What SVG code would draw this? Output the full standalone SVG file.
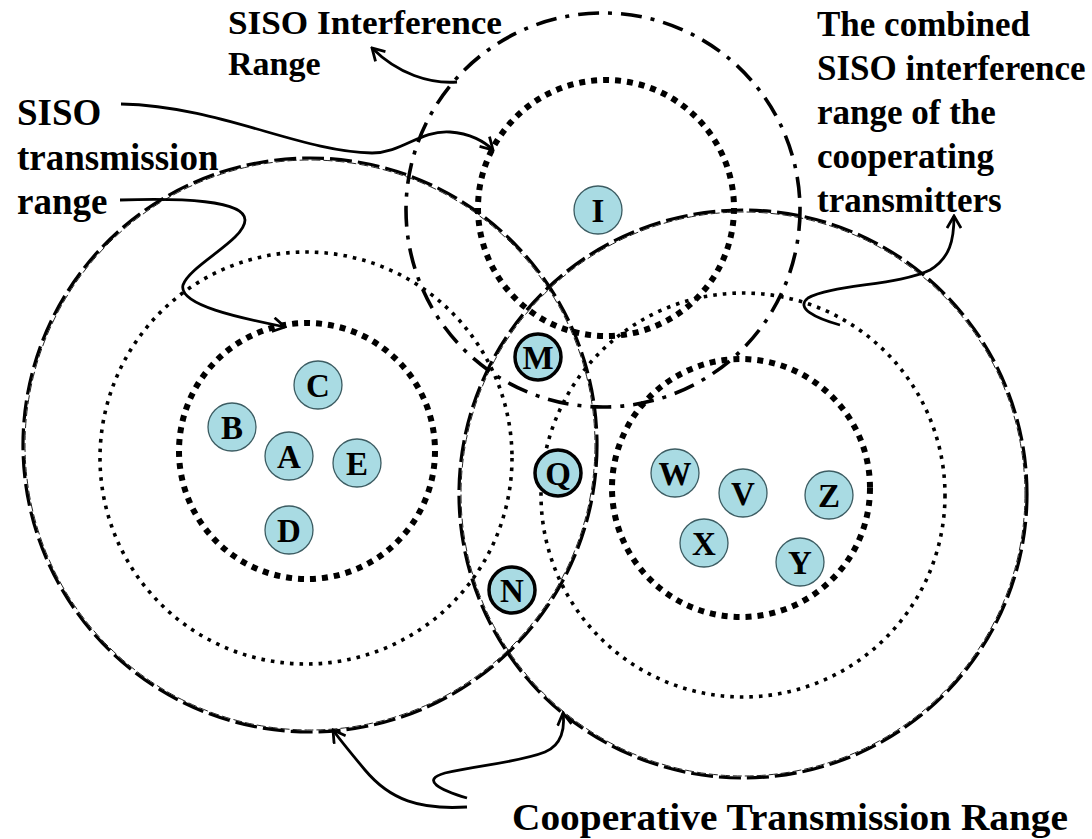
<svg xmlns="http://www.w3.org/2000/svg" width="1092" height="839" viewBox="0 0 1092 839">
<style>
text{font-family:"Liberation Serif","Times New Roman",serif;font-weight:bold;fill:#000}
.lbl{font-size:37px}
.lbl2{font-size:35px}
.coop{fill:none;stroke:#000;stroke-width:3.2;stroke-dasharray:22 6}
.coopthin{fill:none;stroke:#222;stroke-width:1;stroke-dasharray:9 3}
.intf{fill:none;stroke:#000;stroke-width:3.6;stroke-dasharray:21 9 4 9}
.tx{fill:none;stroke:#000;stroke-width:6;stroke-dasharray:6 6}
.ci{fill:none;stroke:#000;stroke-width:3.6;stroke-dasharray:3.6 6}
.node circle{fill:#a9dbe3;stroke:#3c5c62;stroke-width:1.3}
.node.coopn circle{stroke:#000;stroke-width:3.5}
.node text{font-size:33px;text-anchor:middle}
.conn path{fill:none;stroke:#000;stroke-width:2.8;marker-end:url(#arr)}
</style>
<defs>
<marker id="arr" viewBox="0 0 16 16" refX="14" refY="8" markerWidth="16" markerHeight="16" markerUnits="userSpaceOnUse" orient="auto">
<path d="M2,1 L14,8 L2,15" fill="none" stroke="#000" stroke-width="2.8"/>
</marker>
</defs>
<rect width="1092" height="839" fill="#fff"/>
<g id="ranges">
<circle class="coop" cx="310" cy="445" r="287"/>
<circle class="coopthin" cx="310" cy="445" r="285"/>
<circle class="coop" cx="743" cy="494" r="284"/>
<circle class="coopthin" cx="743" cy="494" r="282"/>
<circle class="intf" cx="603" cy="210" r="197"/>
<circle class="ci" cx="306" cy="458" r="206"/>
<circle class="ci" cx="743" cy="495" r="202"/>
<circle class="tx" cx="307" cy="451" r="128"/>
<circle class="tx" cx="741" cy="488" r="129"/>
<circle class="tx" cx="606" cy="208" r="128"/>
</g>
<g id="node-I" class="node"><circle cx="598" cy="210" r="24"/><text x="598" y="222">I</text></g>
<g id="node-C" class="node"><circle cx="318" cy="385" r="24"/><text x="318" y="397">C</text></g>
<g id="node-B" class="node"><circle cx="232" cy="427" r="24"/><text x="232" y="439">B</text></g>
<g id="node-A" class="node"><circle cx="289" cy="456" r="24"/><text x="289" y="468">A</text></g>
<g id="node-E" class="node"><circle cx="357" cy="463" r="24"/><text x="357" y="475">E</text></g>
<g id="node-D" class="node"><circle cx="289" cy="530" r="24"/><text x="289" y="542">D</text></g>
<g id="node-M" class="node coopn"><circle cx="538" cy="357" r="23"/><text x="538" y="369">M</text></g>
<g id="node-Q" class="node coopn"><circle cx="558" cy="473" r="23"/><text x="558" y="485">Q</text></g>
<g id="node-N" class="node coopn"><circle cx="512" cy="590" r="23"/><text x="512" y="602">N</text></g>
<g id="node-W" class="node"><circle cx="675" cy="473" r="24"/><text x="675" y="485">W</text></g>
<g id="node-V" class="node"><circle cx="743" cy="493" r="24"/><text x="743" y="505">V</text></g>
<g id="node-Z" class="node"><circle cx="829" cy="495" r="24"/><text x="829" y="507">Z</text></g>
<g id="node-X" class="node"><circle cx="704" cy="543" r="24"/><text x="704" y="555">X</text></g>
<g id="node-Y" class="node"><circle cx="800" cy="562" r="24"/><text x="800" y="574">Y</text></g>
<g id="connectors" class="conn">
<path d="M457,82 C430,84 398,74 372,48"/>
<path d="M121,104 C220,106 300,152 372,153 C402,153 420,130 450,132 C470,133 485,142 493,150"/>
<path d="M120,200 C180,198 245,200 245,220 C245,240 190,265 183,285 C178,305 240,318 285,327"/>
<path d="M840,325 C815,318 795,308 808,298 C830,285 900,285 930,270 C950,258 954,240 954,216"/>
<path d="M467,807 C420,810 390,800 365,770 C350,752 340,740 333,730"/>
<path d="M467,798 C440,790 420,780 445,773 C480,765 520,762 545,752 C562,745 565,728 563,713"/>
</g>
<g id="labels">
<text x="228" y="34" style="font-size:34px" textLength="274" lengthAdjust="spacingAndGlyphs">SISO Interference</text>
<text x="228" y="75" style="font-size:34px">Range</text>
<text class="lbl" x="17" y="125">SISO</text>
<text class="lbl" x="17" y="170">transmission</text>
<text class="lbl" x="17" y="214">range</text>
<text class="lbl2" x="817" y="36">The combined</text>
<text class="lbl2" x="817" y="80">SISO interference</text>
<text class="lbl2" x="817" y="124">range of the</text>
<text class="lbl2" x="817" y="168">cooperating</text>
<text class="lbl2" x="817" y="212">transmitters</text>
<text x="512" y="830" style="font-size:37px" textLength="556" lengthAdjust="spacingAndGlyphs">Cooperative Transmission Range</text>
</g>
</svg>
